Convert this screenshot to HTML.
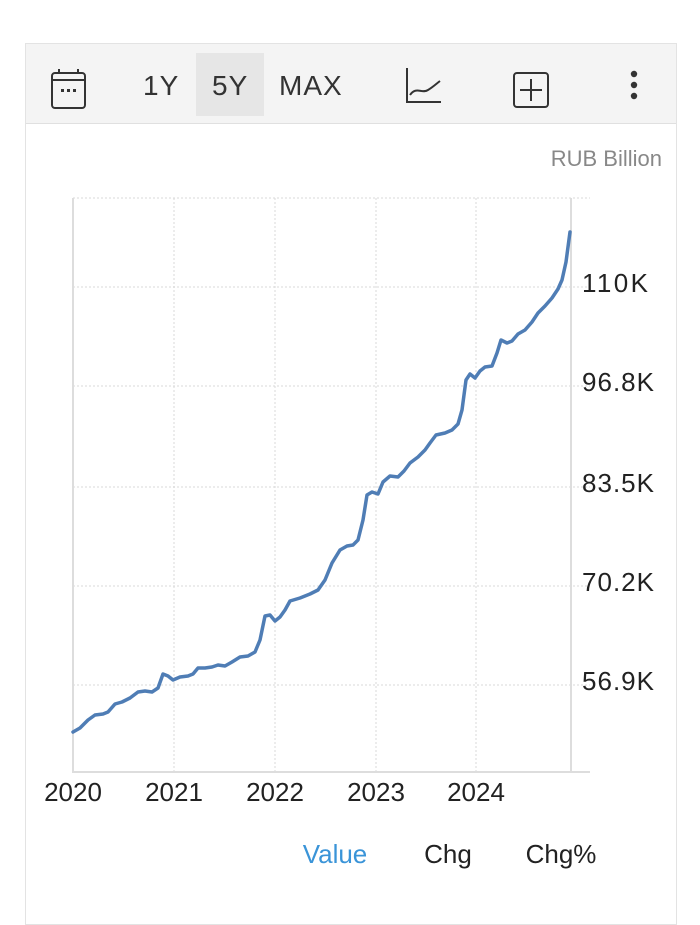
<!DOCTYPE html>
<html><head><style>
body{margin:0;width:700px;height:913px;background:#fff;font-family:"Liberation Sans",sans-serif;position:relative;overflow:hidden}
.card{position:absolute;left:25px;top:43px;width:650px;height:880px;border:1px solid #e3e3e3}
.tb{position:absolute;left:0;top:0;width:650px;height:79px;background:#f4f4f4;border-bottom:1px solid #e0e0e0}
.t{position:absolute;font-size:28px;color:#333;top:26px;letter-spacing:1px}
</style></head><body>
<div class="card">
<div class="tb">
<div style="position:absolute;left:170px;top:9px;width:68px;height:63px;background:#e6e6e6"></div>
<span class="t" style="left:117px">1Y</span>
<span class="t" style="left:186px">5Y</span>
<span class="t" style="left:253px">MAX</span>
<svg style="position:absolute;left:0;top:0" width="650" height="79">
<rect x="26" y="29" width="33" height="35" rx="3" fill="none" stroke="#333" stroke-width="2"/>
<line x1="26" y1="36" x2="59" y2="36" stroke="#333" stroke-width="2"/>
<line x1="33" y1="25" x2="33" y2="30" stroke="#333" stroke-width="2"/><line x1="52" y1="25" x2="52" y2="30" stroke="#333" stroke-width="2"/>
<rect x="35" y="45" width="3" height="3" fill="#333"/><rect x="41" y="45" width="3" height="3" fill="#333"/><rect x="47" y="45" width="3" height="3" fill="#333"/>
<polyline points="381,24 381,58 415,58" fill="none" stroke="#333" stroke-width="2"/>
<path d="M384,51 C390,42 396,50 402,46 C407,43 410,40 414,37" fill="none" stroke="#333" stroke-width="2"/>
<rect x="488" y="29" width="34" height="34" rx="3" fill="none" stroke="#333" stroke-width="2"/>
<line x1="505" y1="35" x2="505" y2="57" stroke="#333" stroke-width="2"/><line x1="494" y1="46" x2="516" y2="46" stroke="#333" stroke-width="2"/>
<circle cx="608" cy="30" r="3.2" fill="#333"/><circle cx="608" cy="41" r="3.2" fill="#333"/><circle cx="608" cy="52" r="3.2" fill="#333"/>
</svg>
</div>
</div>
<svg style="position:absolute;left:0;top:0" width="700" height="913">
<text x="662" y="166" text-anchor="end" font-size="22" fill="#888" font-family="Liberation Sans">RUB Billion</text>
<g stroke="#d8d8d8" stroke-dasharray="2,2" stroke-width="1">
<line x1="73" y1="198" x2="590" y2="198"/><line x1="73" y1="287" x2="590" y2="287"/><line x1="73" y1="386" x2="590" y2="386"/><line x1="73" y1="487" x2="590" y2="487"/><line x1="73" y1="586" x2="590" y2="586"/><line x1="73" y1="685" x2="590" y2="685"/>
<line x1="174" y1="198" x2="174" y2="772"/><line x1="275" y1="198" x2="275" y2="772"/><line x1="376" y1="198" x2="376" y2="772"/><line x1="476" y1="198" x2="476" y2="772"/>
</g>
<line x1="73" y1="198" x2="73" y2="773" stroke="#ddd" stroke-width="2"/>
<line x1="571" y1="198" x2="571" y2="773" stroke="#ddd" stroke-width="2"/>
<line x1="73" y1="772" x2="590" y2="772" stroke="#ddd" stroke-width="2"/>
<g font-size="26" fill="#222" font-family="Liberation Sans">
<text x="582" y="292" textLength="66">110K</text><text x="582" y="391" textLength="72">96.8K</text><text x="582" y="492" textLength="72">83.5K</text><text x="582" y="591" textLength="72">70.2K</text><text x="582" y="690" textLength="72">56.9K</text>
<text x="73" y="801" text-anchor="middle">2020</text><text x="174" y="801" text-anchor="middle">2021</text><text x="275" y="801" text-anchor="middle">2022</text><text x="376" y="801" text-anchor="middle">2023</text><text x="476" y="801" text-anchor="middle">2024</text>
</g>
<polyline fill="none" stroke="#4f7db5" stroke-width="3.5" stroke-linejoin="round" stroke-linecap="round" points="73,732 80,728 88,720 95,715 103,714 108,712 115,704 122,702 130,698 138,692 145,691 152,692 158,688 163,674 168,676 173,680 180,677 188,676 193,674 198,668 205,668 212,667 218,665 225,666 232,662 240,657 248,656 255,652 260,640 265,616 270,615 275,621 280,617 285,610 290,601 300,598 310,594 318,590 325,580 332,563 340,550 347,546 353,545 358,540 363,520 367,495 372,492 378,494 383,482 390,476 398,477 404,471 410,463 418,457 425,450 430,443 436,435 445,433 452,430 458,424 462,410 466,380 470,374 475,378 480,371 485,367 492,366 497,353 501,340 507,343 512,341 518,334 525,330 532,322 538,313 545,306 552,298 558,289 562,280 566,262 570,232"/>
<g font-size="26" font-family="Liberation Sans">
<text x="335" y="863" text-anchor="middle" fill="#3a94d8">Value</text>
<text x="448" y="863" text-anchor="middle" fill="#222">Chg</text>
<text x="561" y="863" text-anchor="middle" fill="#222">Chg%</text>
</g>
</svg>
</body></html>
